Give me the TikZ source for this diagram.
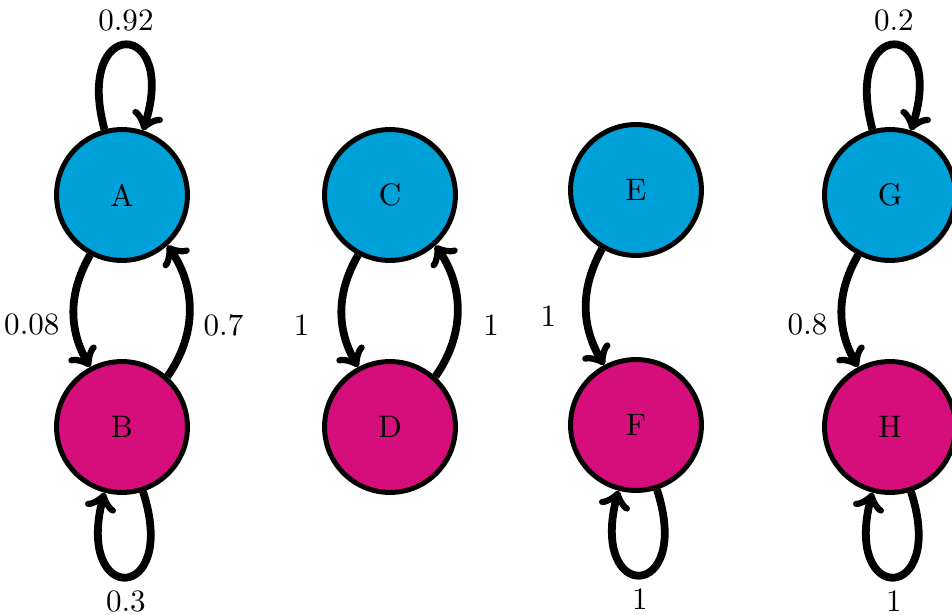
\documentclass[tikz,border=0pt]{standalone}
\usepackage{tikz}
\usepackage{amsmath}
\definecolor{stateblue}{RGB}{0,160,216}
\definecolor{statepink}{RGB}{214,14,123}

\begin{document}
\begin{tikzpicture}[x=0.0113cm,y=0.0113cm,
  state/.style={circle,draw,line width=1.6pt,minimum size=1.48cm,inner sep=0pt},
  trans/.style={->,line width=2.5pt},
  lbl/.style={yshift=-4.5pt},
  selfloop/.style={min distance=38pt}]
\useasboundingbox (0,0) rectangle (952,615);
\node[state,fill=stateblue] (A) at (122,420) {A};
\node[state,fill=statepink] (B) at (122,188) {B};
\node[state,fill=stateblue] (C) at (390,420) {C};
\node[state,fill=statepink] (D) at (390,188) {D};
\node[state,fill=stateblue] (E) at (636,425) {E};
\node[state,fill=statepink] (F) at (636,190) {F};
\node[state,fill=stateblue] (G) at (890,420) {G};
\node[state,fill=statepink] (H) at (890,188) {H};
\draw[trans] (A.-118) to[bend right=30] node[left,lbl] {0.08} (B.118);
\draw[trans] (B.48) to[bend right=35] node[right,lbl] {0.7} (A.-48);
\draw[trans] (A) to[out=105,in=72,selfloop] node[above] {0.92} (A);
\draw[trans] (B) to[out=-72,in=-105,selfloop] node[below] {0.3} (B);
\draw[trans] (C.-118) to[bend right=30] node[left,lbl,xshift=-5.8pt] {1} (D.118);
\draw[trans] (D.48) to[bend right=35] node[right,lbl,xshift=3.8pt] {1} (C.-48);
\draw[trans] (E.-120) to[bend right=30] node[left,lbl,xshift=-5pt,yshift=1.5pt] {1} (F.118);
\draw[trans] (F) to[out=-72,in=-105,selfloop] node[below] {1} (F);
\draw[trans] (G.-118) to[bend right=30] node[left,lbl] {0.8} (H.118);
\draw[trans] (G) to[out=105,in=72,selfloop] node[above] {0.2} (G);
\draw[trans] (H) to[out=-72,in=-105,selfloop] node[below] {1} (H);
\end{tikzpicture}
\end{document}
